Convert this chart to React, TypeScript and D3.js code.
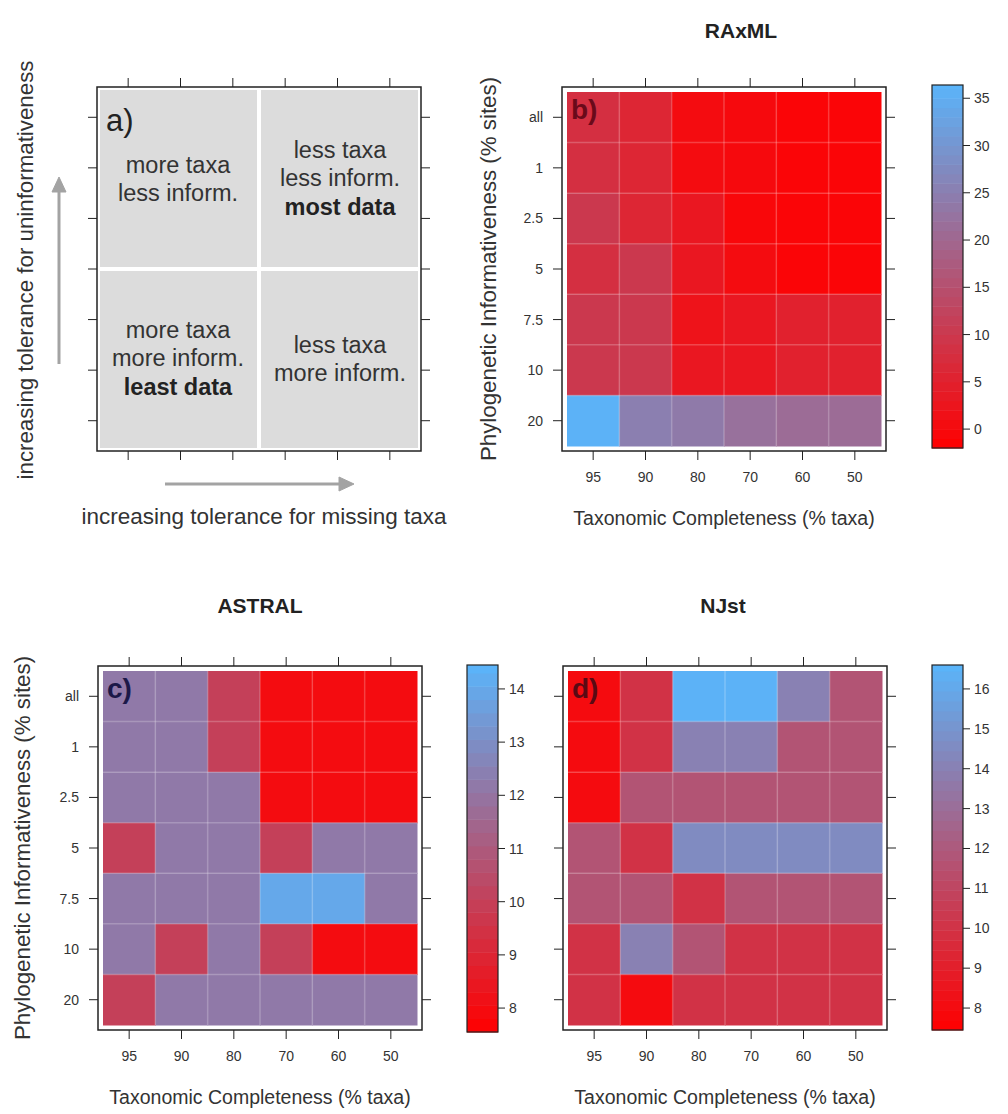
import * as d3 from "d3";

const cols = ["95", "90", "80", "70", "60", "50"];
const rows = ["all", "1", "2.5", "5", "7.5", "10", "20"];

// values, rows = all..20, cols = 95..50
const raxml = [
  [8, 6, 0.5, 0, -1, -1],
  [8, 6, 0.5, 0, -1, -1],
  [10, 6, 3, -0.5, -1, -1],
  [8, 10, 3, 0.5, -1, -1],
  [10, 10, 2, 3, 5, 5],
  [10, 10, 3, 3, 5, 5],
  [36, 25, 24, 22, 21, 21],
];
const astral = [
  [12.2, 12.2, 10, 8, 8, 8],
  [12.2, 12.2, 10, 8, 8, 8],
  [12.2, 12.2, 12.2, 8, 8, 8],
  [10, 12.2, 12.2, 10, 12.2, 12.2],
  [12.2, 12.2, 12.2, 14, 14, 12.2],
  [12.2, 10, 12.2, 10, 8, 8],
  [10, 12.2, 12.2, 12.2, 12.2, 12.2],
];
const njst = [
  [8, 10, 16.5, 16.5, 14, 11.7],
  [8, 10, 14, 14, 11.7, 11.7],
  [8, 11.7, 11.7, 11.7, 11.7, 11.7],
  [11.7, 10, 14.5, 14.5, 14.5, 14.5],
  [11.7, 11.7, 10, 11.7, 11.7, 11.7],
  [10, 14, 11.7, 10, 10, 10],
  [10, 8, 10, 10, 10, 10],
];

const raxmlTicks = [0, 5, 10, 15, 20, 25, 30, 35];
const astralTicks = [8, 9, 10, 11, 12, 13, 14];
const njstTicks = [8, 9, 10, 11, 12, 13, 14, 15, 16];

const raxmlRange: [number, number] = [-2, 36.4];
const astralRange: [number, number] = [7.55, 14.45];
const njstRange: [number, number] = [7.45, 16.6];

const FONT = "'Liberation Sans', Arial, Helvetica, sans-serif";
const PW = 324;
const PH = 364;
const PAD = 5;
const TCK = 9;
const TXT = "#333";

const ramp = (range: [number, number]) =>
  d3
    .scaleLinear<string>()
    .domain(range)
    .range(["#ff0000", "#5ab4fa"])
    .interpolate(d3.interpolateRgb)
    .clamp(true);

function FrameTicks({ x0, y0 }: { x0: number; y0: number }) {
  const x = d3.scaleBand().domain(cols).range([x0 + PAD, x0 + PW - PAD]);
  const y = d3.scaleBand().domain(rows).range([y0 + PAD, y0 + PH - PAD]);
  const xs = cols.map((c) => (x(c) ?? 0) + x.bandwidth() / 2);
  const ys = rows.map((r) => (y(r) ?? 0) + y.bandwidth() / 2);
  return (
    <g stroke="#222" strokeWidth={1}>
      {xs.map((cx, i) => (
        <g key={"x" + i}>
          <line x1={cx} x2={cx} y1={y0 - TCK} y2={y0} />
          <line x1={cx} x2={cx} y1={y0 + PH} y2={y0 + PH + TCK} />
        </g>
      ))}
      {ys.map((cy, i) => (
        <g key={"y" + i}>
          <line x1={x0 - TCK} x2={x0} y1={cy} y2={cy} />
          <line x1={x0 + PW} x2={x0 + PW + TCK} y1={cy} y2={cy} />
        </g>
      ))}
      <rect x={x0} y={y0} width={PW} height={PH} fill="none" strokeWidth={1.5} />
    </g>
  );
}

type HeatProps = {
  x0: number;
  y0: number;
  data: number[][];
  range: [number, number];
  ticks: number[];
  step: number;
  letter: string;
  letterColor: string;
  title: string;
  titleX: number;
  titleY: number;
  cbX: number;
  cbY0: number;
  cbY1: number;
  ylabX: number;
  showY: boolean;
};

function HeatPanel(p: HeatProps) {
  const { x0, y0, data, range } = p;
  const x = d3.scaleBand().domain(cols).range([x0 + PAD, x0 + PW - PAD]);
  const y = d3.scaleBand().domain(rows).range([y0 + PAD, y0 + PH - PAD]);
  const color = ramp(range);
  const cb = d3.scaleLinear().domain(range).range([p.cbY1, p.cbY0]);
  const bands = d3.range(range[0], range[1], p.step);
  const cbW = 31;

  return (
    <g fontFamily={FONT}>
      <text x={p.titleX} y={p.titleY} textAnchor="middle" dominantBaseline="central" fontSize={21} fontWeight="bold" fill="#222">
        {p.title}
      </text>
      {data.map((row, ri) =>
        row.map((v, ci) => (
          <rect
            key={ri + "-" + ci}
            x={x(cols[ci])}
            y={y(rows[ri])}
            width={x.bandwidth() + 0.5}
            height={y.bandwidth() + 0.5}
            fill={color(v)}
          />
        ))
      )}
      <g stroke="#fff" strokeOpacity={0.22} strokeWidth={1.5}>
        {cols.slice(1).map((c) => (
          <line key={c} x1={x(c)} x2={x(c)} y1={y0 + PAD} y2={y0 + PH - PAD} />
        ))}
        {rows.slice(1).map((r) => (
          <line key={r} x1={x0 + PAD} x2={x0 + PW - PAD} y1={y(r)} y2={y(r)} />
        ))}
      </g>
      <FrameTicks x0={x0} y0={y0} />
      <text x={x0 + 9} y={y0 + 32} fontSize={28} fontWeight="bold" fill={p.letterColor}>
        {p.letter}
      </text>
      {p.showY &&
        rows.map((r) => (
          <text key={r} x={x0 - 19} y={(y(r) ?? 0) + y.bandwidth() / 2} textAnchor="end" dominantBaseline="central" fontSize={14} fill={TXT}>
            {r}
          </text>
        ))}
      {cols.map((c) => (
        <text key={c} x={(x(c) ?? 0) + x.bandwidth() / 2} y={y0 + PH + 26} textAnchor="middle" dominantBaseline="central" fontSize={14} fill={TXT}>
          {c}
        </text>
      ))}
      <text x={x0 + PW / 2} y={y0 + PH + 67} textAnchor="middle" dominantBaseline="central" fontSize={19.5} fill={TXT}>
        Taxonomic Completeness (% taxa)
      </text>
      {p.showY && (
        <text
          transform={`translate(${p.ylabX},${y0 + PH / 2}) rotate(-90)`}
          textAnchor="middle"
          dominantBaseline="central"
          fontSize={22.3}
          fill={TXT}
        >
          Phylogenetic Informativeness (% sites)
        </text>
      )}
      {/* colour key */}
      {bands.map((b, i) => {
        const top = Math.max(cb(b + p.step), p.cbY0);
        return (
          <rect key={i} x={p.cbX} y={top} width={cbW} height={cb(b) - top + 0.5} fill={color(b + p.step / 2)} />
        );
      })}
      <rect x={p.cbX} y={p.cbY0} width={cbW} height={p.cbY1 - p.cbY0} fill="none" stroke="#222" strokeWidth={1.2} />
      {p.ticks.map((t) => (
        <g key={t}>
          <line x1={p.cbX + cbW} x2={p.cbX + cbW + 7} y1={cb(t)} y2={cb(t)} stroke="#222" />
          <text x={p.cbX + cbW + 11} y={cb(t)} dominantBaseline="central" fontSize={14} fill={TXT}>
            {t}
          </text>
        </g>
      ))}
    </g>
  );
}

function ConceptPanel() {
  const x0 = 97;
  const y0 = 87;
  const midX = x0 + PW / 2;
  const midY = y0 + PH / 2;
  const lx = (x0 + midX) / 2;
  const rx = (midX + x0 + PW) / 2;
  const fs = 23.5;
  return (
    <g fontFamily={FONT}>
      <rect x={x0 + 3} y={y0 + 3} width={PW - 6} height={PH - 6} fill="#dcdcdc" />
      <line x1={midX} x2={midX} y1={y0 + 3} y2={y0 + PH - 3} stroke="#fff" strokeWidth={4} />
      <line x1={x0 + 3} x2={x0 + PW - 3} y1={midY} y2={midY} stroke="#fff" strokeWidth={4} />
      <FrameTicks x0={x0} y0={y0} />
      <text x={x0 + 9} y={y0 + 44} fontSize={31} fill="#222">a)</text>
      <g textAnchor="middle" dominantBaseline="central" fontSize={fs} fill="#333">
        <text x={lx} y={165}>more taxa</text>
        <text x={lx} y={193}>less inform.</text>
        <text x={rx} y={150}>less taxa</text>
        <text x={rx} y={178}>less inform.</text>
        <text x={rx} y={207} fontWeight="bold" fill="#222">most data</text>
        <text x={lx} y={330}>more taxa</text>
        <text x={lx} y={358}>more inform.</text>
        <text x={lx} y={387} fontWeight="bold" fill="#222">least data</text>
        <text x={rx} y={345}>less taxa</text>
        <text x={rx} y={373}>more inform.</text>
      </g>
      <g stroke="#a3a3a3" fill="#a3a3a3" strokeWidth={3}>
        <line x1={59} x2={59} y1={364} y2={190} />
        <path d="M52,192 L59,177 L66,192 Z" strokeWidth={1} />
        <line x1={165} x2={341} y1={484} y2={484} />
        <path d="M339,477 L354,484 L339,491 Z" strokeWidth={1} />
      </g>
      <text x={264} y={516} textAnchor="middle" dominantBaseline="central" fontSize={22.5} fill={TXT}>
        increasing tolerance for missing taxa
      </text>
      <text transform="translate(25,270) rotate(-90)" textAnchor="middle" dominantBaseline="central" fontSize={22.3} fill={TXT}>
        increasing tolerance for uninformativeness
      </text>
    </g>
  );
}

export default function App() {
  return (
    <svg width={1008} height={1114} style={{ position: "absolute", left: 0, top: 0, background: "#fff" }}>
      <rect width={1008} height={1114} fill="#fff" />
      <ConceptPanel />
      <HeatPanel
        x0={562} y0={87} data={raxml} range={raxmlRange} ticks={raxmlTicks} step={1}
        letter="b)" letterColor="#6a0a1a" title="RAxML" titleX={741} titleY={30}
        cbX={932} cbY0={85} cbY1={448} ylabX={488} showY={true}
      />
      <HeatPanel
        x0={98} y0={666} data={astral} range={astralRange} ticks={astralTicks} step={0.25}
        letter="c)" letterColor="#1c1848" title="ASTRAL" titleX={260} titleY={605}
        cbX={467} cbY0={665} cbY1={1032} ylabX={22} showY={true}
      />
      <HeatPanel
        x0={563} y0={666} data={njst} range={njstRange} ticks={njstTicks} step={0.25}
        letter="d)" letterColor="#5a0a14" title="NJst" titleX={723} titleY={605}
        cbX={932} cbY0={665} cbY1={1030} ylabX={488} showY={false}
      />
    </svg>
  );
}
